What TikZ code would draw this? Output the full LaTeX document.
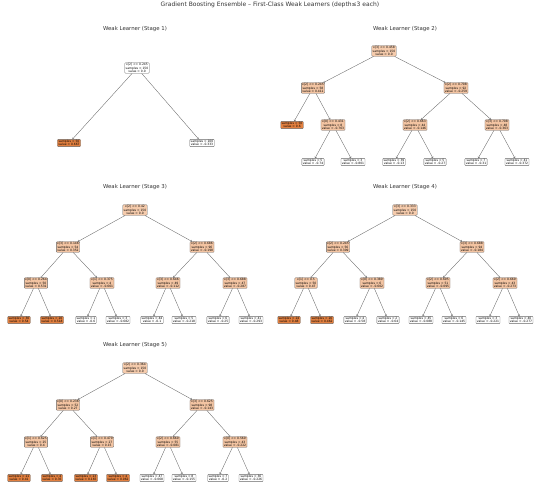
\documentclass[tikz,border=0pt]{standalone}
\usepackage{fontspec}
\setmainfont{DejaVu Sans}
\usetikzlibrary{arrows.meta}
\definecolor{inner}{HTML}{F3C4A2}
\definecolor{rootc}{HTML}{F5CBAC}
\definecolor{leafo}{HTML}{E3803F}
\definecolor{edgec}{HTML}{666666}
\tikzset{
  base/.style={draw=edgec, line width=0.35pt, rounded corners=0.8pt, inner sep=0.9pt,
    align=center, font=\fontsize{3}{3.2}\selectfont, text=black},
  split/.style={base, fill=inner},
  rootn/.style={base, fill=rootc},
  leafo/.style={base, fill=leafo},
  leafw/.style={base, fill=white},
  edge/.style={draw=edgec, line width=0.35pt, -{Straight Barb[length=1.2pt,width=2pt]}},
  ttl/.style={font=\fontsize{5.4}{6}\selectfont, text=black!80},
}
\begin{document}
\begin{tikzpicture}[x=1pt,y=-1pt]
\useasboundingbox (0,0) rectangle (540,500);
\node[font=\fontsize{6}{7}\selectfont, text=black!80] (main) at (270,5) {Gradient Boosting Ensemble – First-Class Weak Learners (depth≤3 each)};

% ---------- Stage 1
\node[ttl] (t1) at (135,29) {Weak Learner (Stage 1)};
\node[rootn, fill=white] (a0) at (137,68) {x[2] <= 0.245\\samples = 150\\value = 0.0};
\node[leafo] (a1) at (69,143) {samples = 50\\value = 0.667};
\node[leafw] (a2) at (202,143) {samples = 100\\value = -0.333};
\draw[edge] (a0) -- (a1); \draw[edge] (a0) -- (a2);

% ---------- Stage 2
\node[ttl] (t2) at (405,29) {Weak Learner (Stage 2)};
\node[rootn] (b0) at (384,51) {x[3] <= 0.458\\samples = 150\\value = 0.0};
\node[split] (b1) at (313,88) {x[2] <= 0.245\\samples = 58\\value = 0.411};
\node[split] (b2) at (456,88) {x[2] <= 0.708\\samples = 92\\value = -0.259};
\node[leafo] (b3) at (292,125) {samples = 50\\value = 0.6};
\node[split] (b4) at (333,125) {x[0] <= 0.431\\samples = 8\\value = -0.763};
\node[split] (b5) at (415,125) {x[2] <= 0.663\\samples = 44\\value = -0.146};
\node[split] (b6) at (497,125) {x[3] <= 0.708\\samples = 48\\value = -0.363};
\node[leafw] (b7) at (313,162) {samples = 5\\value = -0.74};
\node[leafw] (b8) at (353,162) {samples = 3\\value = -0.801};
\node[leafw] (b9) at (394,162) {samples = 39\\value = -0.13};
\node[leafw] (b10) at (435,162) {samples = 5\\value = -0.27};
\node[leafw] (b11) at (476,162) {samples = 7\\value = -0.31};
\node[leafw] (b12) at (517,162) {samples = 41\\value = -0.372};
\draw[edge] (b0) -- (b1); \draw[edge] (b0) -- (b2);
\draw[edge] (b1) -- (b3); \draw[edge] (b1) -- (b4);
\draw[edge] (b2) -- (b5); \draw[edge] (b2) -- (b6);
\draw[edge] (b4) -- (b7); \draw[edge] (b4) -- (b8);
\draw[edge] (b5) -- (b9); \draw[edge] (b5) -- (b10);
\draw[edge] (b6) -- (b11); \draw[edge] (b6) -- (b12);

% ---------- Stage 3
\node[ttl] (t3) at (135,187) {Weak Learner (Stage 3)};
\node[rootn] (c0) at (135,210) {x[2] <= 0.42\\samples = 150\\value = 0.0};
\node[split] (c1) at (68,247) {x[3] <= 0.146\\samples = 54\\value = 0.352};
\node[split] (c2) at (202,247) {x[2] <= 0.686\\samples = 96\\value = -0.198};
\node[split] (c3) at (36,283) {x[0] <= 0.264\\samples = 50\\value = 0.531};
\node[split] (c4) at (102,283) {x[1] <= 0.375\\samples = 4\\value = -0.661};
\node[split] (c5) at (168,283) {x[3] <= 0.646\\samples = 49\\value = -0.112};
\node[split] (c6) at (235,283) {x[3] <= 0.688\\samples = 47\\value = -0.287};
\node[leafo] (c7) at (19,320) {samples = 30\\value = 0.54};
\node[leafo] (c8) at (52,320) {samples = 20\\value = 0.518};
\node[leafw] (c9) at (86,320) {samples = 1\\value = -0.6};
\node[leafw] (c10) at (118,320) {samples = 3\\value = -0.682};
\node[leafw] (c11) at (152,320) {samples = 44\\value = -0.1};
\node[leafw] (c12) at (184,320) {samples = 5\\value = -0.218};
\node[leafw] (c13) at (218,320) {samples = 6\\value = -0.25};
\node[leafw] (c14) at (251,320) {samples = 41\\value = -0.293};
\draw[edge] (c0) -- (c1); \draw[edge] (c0) -- (c2);
\draw[edge] (c1) -- (c3); \draw[edge] (c1) -- (c4);
\draw[edge] (c2) -- (c5); \draw[edge] (c2) -- (c6);
\draw[edge] (c3) -- (c7); \draw[edge] (c3) -- (c8);
\draw[edge] (c4) -- (c9); \draw[edge] (c4) -- (c10);
\draw[edge] (c5) -- (c11); \draw[edge] (c5) -- (c12);
\draw[edge] (c6) -- (c13); \draw[edge] (c6) -- (c14);

% ---------- Stage 4
\node[ttl] (t4) at (405,187) {Weak Learner (Stage 4)};
\node[rootn] (d0) at (405,210) {x[3] <= 0.333\\samples = 150\\value = 0.0};
\node[split] (d1) at (338,247) {x[2] <= 0.245\\samples = 56\\value = 0.309};
\node[split] (d2) at (472,247) {x[3] <= 0.688\\samples = 94\\value = -0.184};
\node[split] (d3) at (306,283) {x[1] <= 0.5\\samples = 50\\value = 0.47};
\node[split] (d4) at (372,283) {x[0] <= 0.389\\samples = 6\\value = -0.602};
\node[split] (d5) at (438,283) {x[2] <= 0.695\\samples = 51\\value = -0.095};
\node[split] (d6) at (505,283) {x[2] <= 0.669\\samples = 43\\value = -0.273};
\node[leafo] (d7) at (289,320) {samples = 24\\value = 0.48};
\node[leafo] (d8) at (322,320) {samples = 26\\value = 0.462};
\node[leafw] (d9) at (355,320) {samples = 4\\value = -0.58};
\node[leafw] (d10) at (388,320) {samples = 2\\value = -0.64};
\node[leafw] (d11) at (421,320) {samples = 45\\value = -0.088};
\node[leafw] (d12) at (454,320) {samples = 6\\value = -0.145};
\node[leafw] (d13) at (488,320) {samples = 3\\value = -0.221};
\node[leafw] (d14) at (521,320) {samples = 40\\value = -0.277};
\draw[edge] (d0) -- (d1); \draw[edge] (d0) -- (d2);
\draw[edge] (d1) -- (d3); \draw[edge] (d1) -- (d4);
\draw[edge] (d2) -- (d5); \draw[edge] (d2) -- (d6);
\draw[edge] (d3) -- (d7); \draw[edge] (d3) -- (d8);
\draw[edge] (d4) -- (d9); \draw[edge] (d4) -- (d10);
\draw[edge] (d5) -- (d11); \draw[edge] (d5) -- (d12);
\draw[edge] (d6) -- (d13); \draw[edge] (d6) -- (d14);

% ---------- Stage 5
\node[ttl] (t5) at (135,345) {Weak Learner (Stage 5)};
\node[rootn] (e0) at (135,368) {x[2] <= 0.364\\samples = 150\\value = 0.0};
\node[split] (e1) at (68,405) {x[0] <= 0.236\\samples = 52\\value = 0.27};
\node[split] (e2) at (202,405) {x[3] <= 0.625\\samples = 98\\value = -0.143};
\node[split] (e3) at (36,442) {x[1] <= 0.625\\samples = 25\\value = 0.4};
\node[split] (e4) at (102,442) {x[1] <= 0.479\\samples = 27\\value = 0.15};
\node[split] (e5) at (168,442) {x[2] <= 0.669\\samples = 55\\value = -0.081};
\node[split] (e6) at (235,442) {x[0] <= 0.569\\samples = 43\\value = -0.222};
\node[leafo] (e7) at (19,478) {samples = 21\\value = 0.41};
\node[leafo] (e8) at (52,478) {samples = 4\\value = 0.35};
\node[leafo] (e9) at (86,478) {samples = 23\\value = 0.165};
\node[leafo] (e10) at (118,478) {samples = 4\\value = 0.062};
\node[leafw] (e11) at (152,478) {samples = 47\\value = -0.068};
\node[leafw] (e12) at (184,478) {samples = 8\\value = -0.155};
\node[leafw] (e13) at (218,478) {samples = 7\\value = -0.2};
\node[leafw] (e14) at (251,478) {samples = 36\\value = -0.226};
\draw[edge] (e0) -- (e1); \draw[edge] (e0) -- (e2);
\draw[edge] (e1) -- (e3); \draw[edge] (e1) -- (e4);
\draw[edge] (e2) -- (e5); \draw[edge] (e2) -- (e6);
\draw[edge] (e3) -- (e7); \draw[edge] (e3) -- (e8);
\draw[edge] (e4) -- (e9); \draw[edge] (e4) -- (e10);
\draw[edge] (e5) -- (e11); \draw[edge] (e5) -- (e12);
\draw[edge] (e6) -- (e13); \draw[edge] (e6) -- (e14);
\end{tikzpicture}
\end{document}
